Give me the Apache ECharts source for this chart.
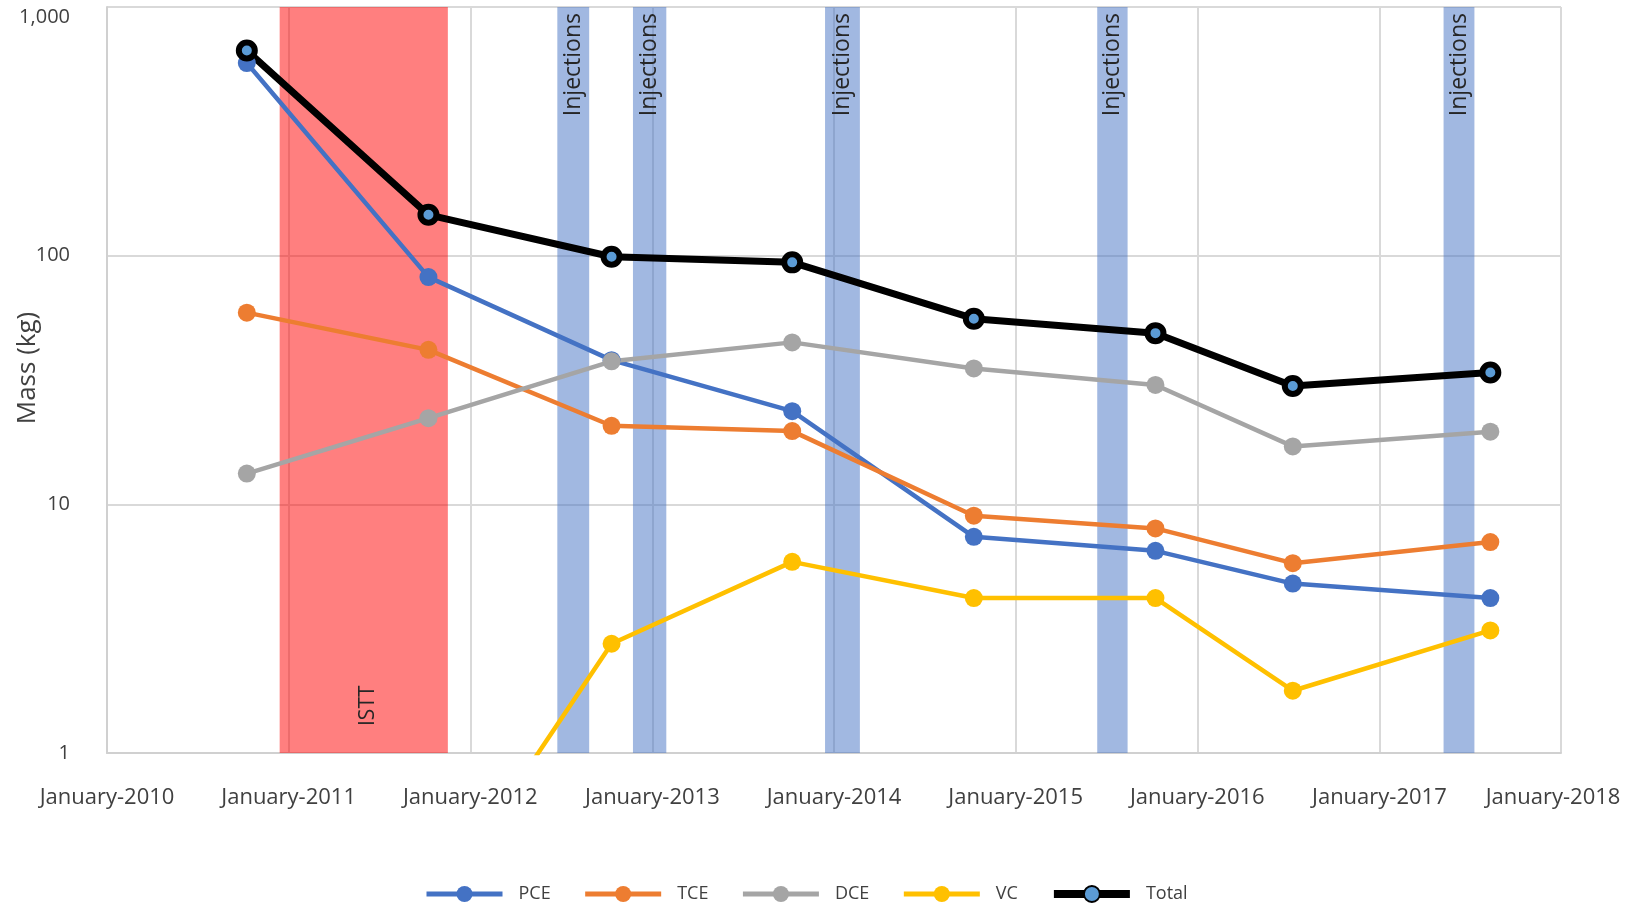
<!DOCTYPE html>
<html>
<head>
<meta charset="utf-8">
<title>Mass (kg)</title>
<script src="https://cdn.jsdelivr.net/npm/echarts@6/dist/echarts.min.js"></script>
<style>
  html, body { margin: 0; padding: 0; background: #ffffff; }
  #chart { width: 1629px; height: 905px; }
</style>
</head>
<body>
<div id="chart"></div>
<script>
// Sampling dates
const sampleDates = ['2010-10-09', '2011-10-09', '2012-10-11', '2013-10-09', '2014-10-09', '2015-10-09', '2016-07-11', '2017-08-12'];

// Contaminant mass per sampling event (kg)
const pce   = [595, 82, 38, 23.7, 7.4, 6.5, 4.8, 4.2];
const tce   = [59, 41.8, 20.7, 19.7, 9.0, 8.0, 5.8, 7.05];
const dce   = [13.3, 22.2, 37.6, 44.8, 35.2, 30.2, 17.1, 19.6];
const vc    = [null, 0.22, 2.75, 5.87, 4.2, 4.2, 1.78, 3.11];
const total = [668, 146, 99, 94, 55.8, 48.8, 29.9, 33.9];

// Treatment periods
const isttPeriod = ['2010-12-14', '2011-11-17'];
const injectionPeriods = [
  ['2012-06-24', '2012-08-27'],
  ['2012-11-23', '2013-01-29'],
  ['2013-12-14', '2014-02-22'],
  ['2015-06-14', '2015-08-14'],
  ['2017-05-10', '2017-07-11']
];

const yTicks = [1, 10, 100, 1000];
const xRange = ['2010-01-01', '2018-01-01'];

const FONT = '"Open Sans", "Noto Sans", sans-serif';
const pair = (vals) => sampleDates.map((d, i) => [d, vals[i]]);

function lineSeries(name, color, vals) {
  return {
    name: name,
    type: 'line',
    data: pair(vals),
    symbol: 'circle',
    symbolSize: 18,
    connectNulls: false,
    lineStyle: { color: color, width: 4.5 },
    itemStyle: { color: color },
    z: 2
  };
}

const lastYear = new Date(xRange[1]).getFullYear();
const yMax = yTicks[yTicks.length - 1];

const chart = echarts.init(document.getElementById('chart'), null, { renderer: 'canvas' });

chart.setOption({
  animation: false,
  backgroundColor: '#ffffff',
  textStyle: { fontFamily: FONT },
  grid: { left: 107, right: 68, top: 7, bottom: 152, containLabel: false, outerBoundsMode: 'none' },
  legend: {
    bottom: 2,
    left: 424,
    padding: 0,
    itemWidth: 76,
    itemHeight: 20,
    itemGap: 32,
    textStyle: { fontFamily: FONT, fontSize: 18, color: '#404040', padding: [0, 0, 0, 11] },
    data: [
      { name: 'PCE', lineStyle: { width: 5 } },
      { name: 'TCE', lineStyle: { width: 5 } },
      { name: 'DCE', lineStyle: { width: 5 } },
      { name: 'VC', lineStyle: { width: 5 } },
      { name: 'Total', lineStyle: { width: 8 } }
    ]
  },
  xAxis: {
    type: 'time',
    min: xRange[0],
    max: xRange[1],
    minInterval: 365 * 24 * 3600 * 1000,
    maxInterval: 366 * 24 * 3600 * 1000,
    axisLine: { show: true, lineStyle: { color: '#d0d0d0', width: 2 } },
    axisTick: { show: false },
    splitLine: { show: true, lineStyle: { color: '#d9d9d9', width: 2 } },
    axisLabel: {
      margin: 34,
      fontSize: 22,
      color: '#404040',
      fontFamily: FONT,
      hideOverlap: false,
      showMinLabel: true,
      showMaxLabel: true,
      formatter: (v) => {
        const y = new Date(v).getFullYear();
        return y === lastYear ? '{last|January-' + y + '}' : 'January-' + y;
      },
      rich: {
        last: { fontSize: 22, color: '#404040', fontFamily: FONT, padding: [0, 16, 0, 0] }
      }
    }
  },
  yAxis: {
    type: 'log',
    logBase: 10,
    min: yTicks[0],
    max: yMax,
    name: 'Mass (kg)',
    nameLocation: 'middle',
    nameGap: 66,
    nameMoveOverlap: false,
    nameTextStyle: { fontSize: 26, color: '#404040', fontFamily: FONT, padding: [0, 0, 0, 24] },
    axisLine: { show: true, lineStyle: { color: '#d0d0d0', width: 2 } },
    axisTick: { show: false },
    splitLine: { show: true, lineStyle: { color: '#d9d9d9', width: 2 } },
    axisLabel: {
      margin: 37,
      fontSize: 20,
      color: '#404040',
      fontFamily: FONT,
      formatter: (v) => {
        const s = Number(v).toLocaleString('en-US');
        return Number(v) === yMax ? '{top|' + s + '}' : s;
      },
      rich: {
        top: { fontSize: 20, color: '#404040', fontFamily: FONT, padding: [20, 0, 0, 0] }
      }
    }
  },
  series: [
    lineSeries('PCE', '#4472C4', pce),
    lineSeries('TCE', '#ED7D31', tce),
    lineSeries('DCE', '#A5A5A5', dce),
    lineSeries('VC', '#FFC000', vc),
    {
      name: 'Total',
      type: 'line',
      data: pair(total),
      symbol: 'circle',
      symbolSize: 16,
      lineStyle: { color: '#000000', width: 7 },
      itemStyle: { color: '#5B9BD5', borderColor: '#000000', borderWidth: 6 },
      z: 2
    },
    {
      // treatment periods shaded over the curves
      name: 'periods',
      type: 'line',
      data: [],
      z: 5,
      silent: true,
      markArea: {
        silent: true,
        data: [
          [
            {
              xAxis: isttPeriod[0],
              itemStyle: { color: 'rgba(255,0,0,0.5)' },
              label: {
                show: true,
                formatter: 'ISTT',
                position: 'insideBottom',
                distance: 27,
                rotate: 90,
                align: 'left',
                verticalAlign: 'middle',
                offset: [0, 4],
                fontSize: 21,
                color: '#262626',
                fontFamily: FONT
              }
            },
            { xAxis: isttPeriod[1] }
          ]
        ].concat(injectionPeriods.map((p) => [
          {
            xAxis: p[0],
            itemStyle: { color: 'rgba(68,114,196,0.5)' },
            label: {
              show: true,
              formatter: 'Injections',
              position: 'insideTop',
              distance: 6,
              rotate: 90,
              align: 'right',
              verticalAlign: 'middle',
              fontSize: 23,
              color: '#262626',
              fontFamily: FONT
            }
          },
          { xAxis: p[1] }
        ]))
      }
    }
  ]
});
</script>
</body>
</html>
